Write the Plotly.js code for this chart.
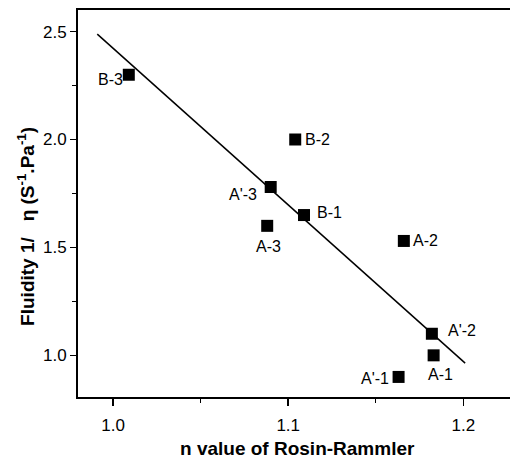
<!DOCTYPE html>
<html>
<head>
<meta charset="utf-8">
<script src="https://cdn.plot.ly/plotly-3.0.1.min.js"></script>
<style>html,body{margin:0;padding:0;background:#fff;}#plot{width:510px;height:466px;}</style>
</head>
<body>
<div id="plot"></div>
<script>
// Data
var sampleNames = ["B-3", "B-2", "A'-3", "B-1", "A-3", "A-2", "A'-2", "A-1", "A'-1"];
var nValues = [1.009, 1.104, 1.090, 1.109, 1.088, 1.166, 1.182, 1.183, 1.163];
var fluidity = [2.30, 2.00, 1.78, 1.65, 1.60, 1.53, 1.10, 1.00, 0.90];
var fitX = [0.991, 1.201];
var fitY = [2.488, 0.964];
var xTickVals = [1.0, 1.1, 1.2];
var xTickText = ["1.0", "1.1", "1.2"];
var yTickVals = [1.0, 1.5, 2.0, 2.5];
var yTickText = ["1.0", "1.5", "2.0", "2.5"];

// Label offsets (pixels, style only)
var labelDx = [-18, 22, -28, 26, 1, 22, 30, 7, -24];
var labelDy = [5, 0, 8, -3, 21, 0, -3, 19, 2];

var font = "Liberation Sans, Arial, Helvetica, sans-serif";

var annotations = sampleNames.map(function (name, i) {
  return {
    x: nValues[i], y: fluidity[i], xref: 'x', yref: 'y',
    text: name, showarrow: false,
    xshift: labelDx[i], yshift: -labelDy[i],
    font: {family: font, size: 16, color: '#000'}
  };
});
annotations.push({
  xref: 'paper', yref: 'paper', x: -0.12, y: 0.44,
  text: "<b>Fluidity 1/   η (S<sup>-1</sup>.Pa<sup>-1</sup>)</b>",
  textangle: -90, showarrow: false, xanchor: 'center', yanchor: 'middle',
  font: {family: font, size: 19, color: '#000'}
});
annotations.push({
  xref: 'paper', yref: 'paper', x: 0.508, y: -0.1318,
  text: "<b>n value of Rosin-Rammler</b>",
  showarrow: false, xanchor: 'center', yanchor: 'middle',
  font: {family: font, size: 19, color: '#000'}
});

var traces = [
  {
    x: fitX, y: fitY, mode: 'lines', type: 'scatter',
    line: {color: '#000', width: 1.5}, hoverinfo: 'skip'
  },
  {
    x: nValues, y: fluidity, mode: 'markers', type: 'scatter',
    marker: {symbol: 'square', size: 12, color: '#000'}
  }
];

var layout = {
  width: 510, height: 466,
  margin: {l: 78, r: 0, t: 10, b: 69},
  paper_bgcolor: '#fff', plot_bgcolor: '#fff',
  showlegend: false,
  font: {family: font, size: 17, color: '#000'},
  xaxis: {
    range: [0.980, 1.2266],
    tickvals: xTickVals, ticktext: xTickText,
    ticks: 'outside', ticklen: 7, tickwidth: 1.5, tickcolor: '#000',
    ticklabelstandoff: 5,
    showline: true, linecolor: '#000', linewidth: 2, mirror: true,
    showgrid: false, zeroline: false,
    minor: {dtick: 0.05, tick0: 1.0, ticks: 'outside', ticklen: 4, tickwidth: 1, tickcolor: '#000', showgrid: false},
    tickfont: {family: font, size: 17, color: '#000'}
  },
  yaxis: {
    range: [0.807, 2.6],
    tickvals: yTickVals, ticktext: yTickText,
    ticks: 'outside', ticklen: 6, tickwidth: 1.5, tickcolor: '#000',
    showline: true, linecolor: '#000', linewidth: 2,
    showgrid: false, zeroline: false,
    minor: {dtick: 0.25, tick0: 1.0, ticks: 'outside', ticklen: 4, tickwidth: 1, tickcolor: '#000', showgrid: false},
    tickfont: {family: font, size: 17, color: '#000'}
  },
  annotations: annotations
};

Plotly.newPlot('plot', traces, layout, {displayModeBar: false, staticPlot: true});
</script>
</body>
</html>
